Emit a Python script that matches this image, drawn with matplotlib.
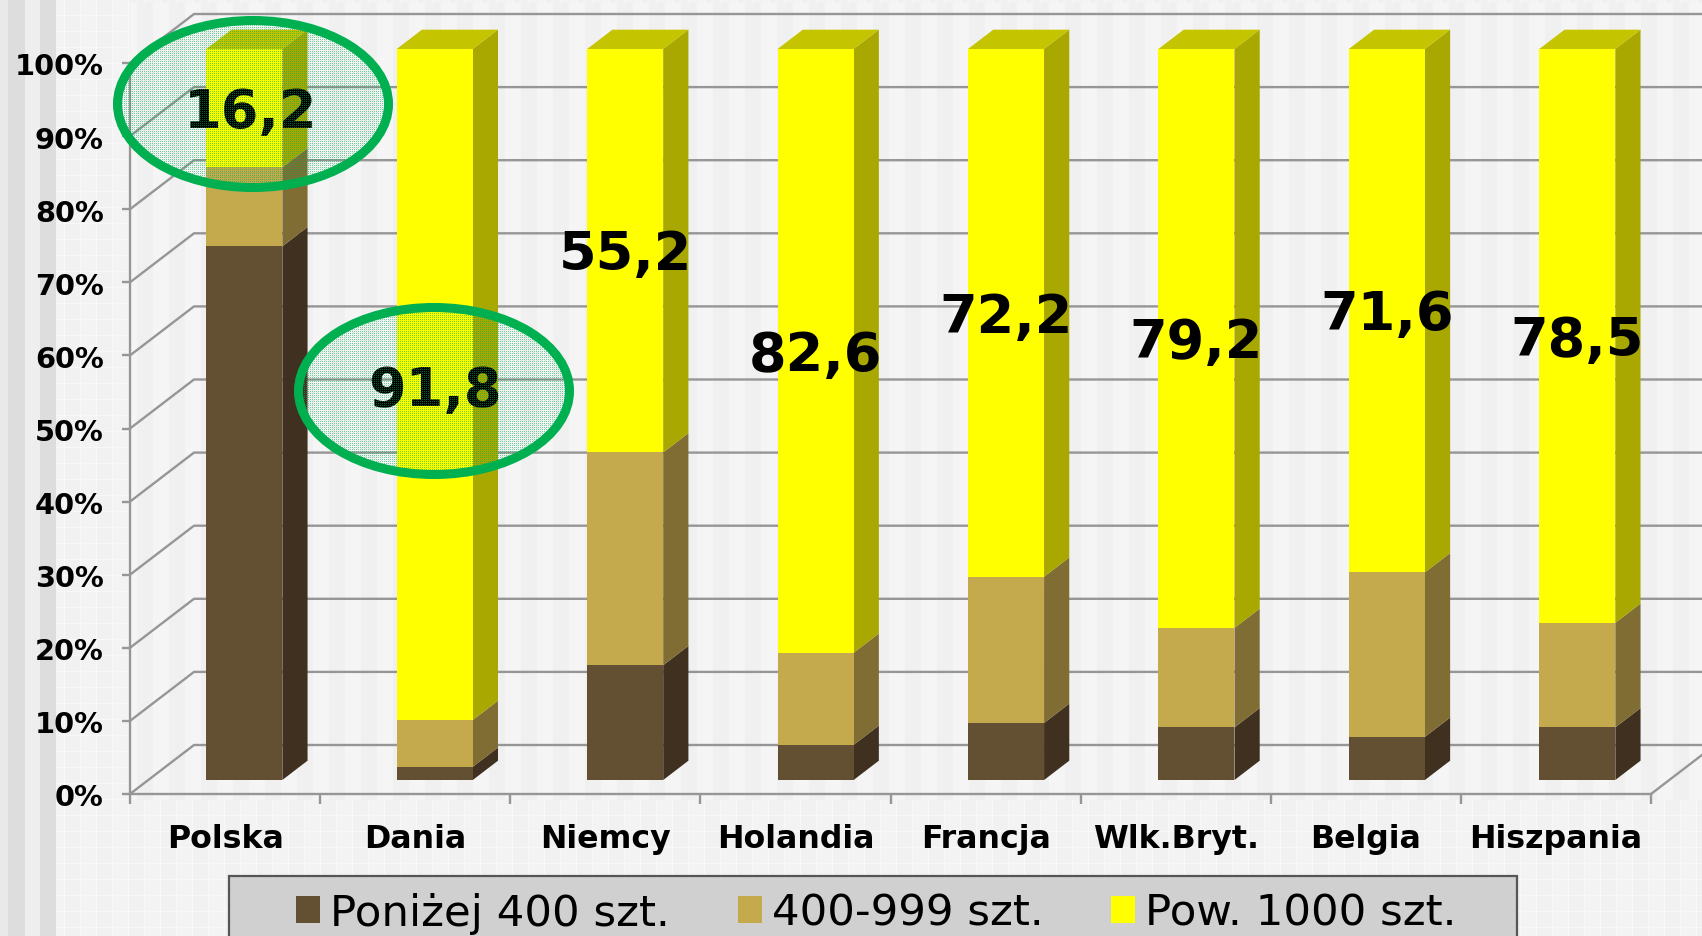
import matplotlib
matplotlib.use('Agg')
import matplotlib.pyplot as plt
import numpy as np
from matplotlib.patches import Ellipse, Polygon, Rectangle
from matplotlib.transforms import ScaledTranslation

# Dane
kraje = ['Polska', 'Dania', 'Niemcy', 'Holandia', 'Francja', 'Wlk.Bryt.', 'Belgia', 'Hiszpania']
ponizej_400 = [73.0, 1.8, 15.7, 4.8, 7.8, 7.2, 5.9, 7.2]
od_400_do_999 = [10.8, 6.4, 29.1, 12.6, 20.0, 13.6, 22.5, 14.3]
powyzej_1000 = [16.2, 91.8, 55.2, 82.6, 72.2, 79.2, 71.6, 78.5]
etykiety = ['16,2', '91,8', '55,2', '82,6', '72,2', '79,2', '71,6', '78,5']
nazwy_serii = ['Poniżej 400 szt.', '400-999 szt.', 'Pow. 1000 szt.']
ticki_y = [0, 10, 20, 30, 40, 50, 60, 70, 80, 90, 100]

SZER, WYS = 1702, 937

# kolory: przod, bok, gora
kolory = [('#635032', '#3F3020', '#3F3020'),
          ('#C4A94D', '#806D33', '#806D33'),
          ('#FFFF00', '#A8A800', '#C4C400')]
SIATKA = '#969696'

# przesuniecie glebi w jednostkach osi
DX = 64 / 190.1
DY = 49 / 7.31
GLEBIA_P = 0.286
GLEBIA_T = 0.68
LEWY = 0.305
SZER_SLUPKA = 0.4
KROK = 1.0016


def rzut(x, y, d):
    return (x + d * DX, y + d * DY)


fig = plt.figure(figsize=(SZER / 100, WYS / 100), dpi=100, facecolor='#F3F3F3')

# tlo: pasy pionowe, tekstura poza polem wykresu, szare pasy po lewej
yy, xx = np.mgrid[0:WYS, 0:SZER]
tlo = np.where(((xx - 1481) // 16) % 2 == 0, 240.0, 245.0)
tekstura = (xx < 130) | (yy > 800) | (yy < 4)
wzor = np.where((xx // 16) % 2 == 0, 241.0, 244.0)
wzor[(xx % 16 == 0) | (yy % 16 == 0)] = 248
tlo[tekstura] = wzor[tekstura]
for x0, x1, c in [(0, 8, 233), (8, 25, 221), (25, 40, 238), (40, 56, 221)]:
    tlo[:, x0:x1] = c
fig.figimage(tlo, cmap='gray', vmin=0, vmax=255, origin='upper', zorder=-2)

ax = fig.add_axes([130 / SZER, (WYS - 795) / WYS, 1521 / SZER, 731 / WYS])
ax.patch.set_visible(False)
ax.set_xlim(0, 8)
ax.set_ylim(0, 100)
for s in ['top', 'right']:
    ax.spines[s].set_visible(False)
for s in ['left', 'bottom']:
    ax.spines[s].set_color(SIATKA)
    ax.spines[s].set_linewidth(1.7)

# siatka: sciana tylna i lewa
for t in ticki_y:
    ax.plot([0, DX, 9], [t, t + DY, t + DY], color=SIATKA, lw=1.7, clip_on=False, zorder=1)
ax.plot([8, 8 + DX], [0, DY], color=SIATKA, lw=1.7, clip_on=False, zorder=1)

# slupki 3d, kazdy segment to trzy wielokaty
for i in range(len(kraje)):
    x0 = i * KROK + LEWY
    x1 = x0 + SZER_SLUPKA
    dol = 0
    for wartosc, (przod, bok, gora) in zip([ponizej_400[i], od_400_do_999[i], powyzej_1000[i]], kolory):
        g = dol + wartosc
        ax.add_patch(Polygon([rzut(x1, dol, GLEBIA_P), rzut(x1, g, GLEBIA_P), rzut(x1, g, GLEBIA_T), rzut(x1, dol, GLEBIA_T)],
                             facecolor=bok, edgecolor='none', clip_on=False, zorder=3))
        ax.add_patch(Polygon([rzut(x0, dol, GLEBIA_P), rzut(x1, dol, GLEBIA_P), rzut(x1, g, GLEBIA_P), rzut(x0, g, GLEBIA_P)],
                             facecolor=przod, edgecolor='none', clip_on=False, zorder=4))
        dol = g
    ax.add_patch(Polygon([rzut(x0, 100, GLEBIA_P), rzut(x1, 100, GLEBIA_P), rzut(x1, 100, GLEBIA_T), rzut(x0, 100, GLEBIA_T)],
                         facecolor=kolory[2][2], edgecolor='none', clip_on=False, zorder=3))

# etykiety na srodku zoltego segmentu
for i, (wartosc, tekst) in enumerate(zip(powyzej_1000, etykiety)):
    px, py = rzut(i * KROK + LEWY + SZER_SLUPKA / 2, 100 - wartosc / 2 - 0.5, GLEBIA_P)
    if i == 0:
        px += 0.035
    if i == 1:
        py -= 0.3
    ax.text(px, py, tekst, ha='center', va='center', fontsize=39, fontweight='bold',
            color='black', zorder=6, clip_on=False)

# osie
ax.set_yticks(ticki_y)
ax.set_yticklabels([f'{t}%' for t in ticki_y], fontsize=20.8, fontweight='bold')
ax.tick_params(axis='y', length=6, width=1.7, color=SIATKA, pad=13)
przes = ScaledTranslation(0, -0.3 / 72, fig.dpi_scale_trans)
for lab in ax.get_yticklabels():
    lab.set_transform(lab.get_transform() + przes)
ax.set_xticks(range(9))
ax.set_xticklabels([])
ax.set_xticks([i + 0.5 for i in range(8)], minor=True)
ax.set_xticklabels(kraje, minor=True, fontsize=22.8, fontweight='bold')
ax.tick_params(axis='x', which='major', length=7, width=1.7, color=SIATKA)
ax.tick_params(axis='x', which='minor', length=0, pad=21)

# legenda: ramka osobno, bo wychodzi poza dol obrazka
fig.add_artist(Rectangle((229 / SZER, -0.05), (1517 - 229) / SZER, (WYS - 877) / WYS + 0.05, transform=fig.transFigure,
                         facecolor='#D0D0D0', edgecolor='#555555', linewidth=1.6, zorder=2))
uchwyty = [Rectangle((0, 0), 1, 1, facecolor=k[0], edgecolor='none') for k in kolory]
leg = fig.legend(uchwyty, nazwy_serii, ncol=3, loc='upper left', bbox_to_anchor=(296 / SZER, (WYS - 893) / WYS),
                 fontsize=31.3, frameon=False, handlelength=0.56, handleheight=0.56, handletextpad=0.23,
                 columnspacing=1.55, borderaxespad=0, borderpad=0)
leg.set_zorder(3)

# owale: zielone kropki i obrys
owale = [(253, 105), (434, 392)]
kropki = np.zeros((WYS, SZER, 4))
kropki[..., 0:3] = [0.0, 0.69, 0.31]
for cx, cy in owale:
    w_srodku = ((xx - cx) / 135.5) ** 2 + ((yy - cy) / 83.5) ** 2 <= 1
    kropki[..., 3][w_srodku & (xx % 2 == 0) & (yy % 2 == 0)] = 0.55
    kropki[..., 3][w_srodku & (xx % 4 == 1) & (yy % 4 == 1)] = 0.2
fig.figimage(kropki, origin='upper', zorder=5)
for cx, cy in owale:
    fig.add_artist(Ellipse((cx / SZER, (WYS - cy) / WYS), 271 / SZER, 167 / WYS, transform=fig.transFigure,
                           facecolor='none', edgecolor='#00B050', linewidth=6.5, zorder=6))

fig.savefig('out.png', dpi=100)
